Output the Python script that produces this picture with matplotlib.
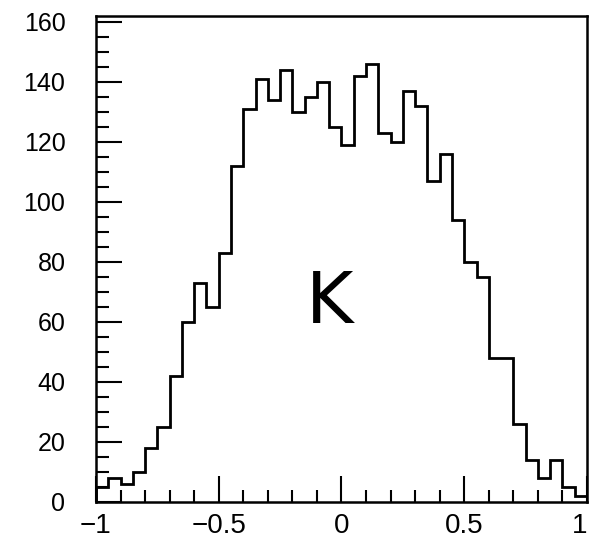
import numpy as np
import matplotlib
matplotlib.use("Agg")
import matplotlib.pyplot as plt
from matplotlib.ticker import MultipleLocator

# histogram: 40 bins of width 0.05 from -1 to 1
bin_edges = np.linspace(-1.0, 1.0, 41)
counts = [5, 8, 6, 10, 18, 25, 42, 60, 73, 65,
          83, 112, 131, 141, 134, 144, 130, 135, 140, 125,
          119, 142, 146, 123, 120, 137, 132, 107, 116, 94,
          80, 75, 48, 48, 26, 14, 8, 14, 5, 2]

x_ticks = [-1, -0.5, 0, 0.5, 1]
x_labels = ["\u22121", "\u22120.5", "0", "0.5", "1"]
y_ticks = [0, 20, 40, 60, 80, 100, 120, 140, 160]

plt.rcParams['font.family'] = ['Liberation Sans', 'DejaVu Sans']

fig = plt.figure(figsize=(5.91, 5.40), dpi=100)
ax = fig.add_axes([0.1624, 0.0704, 0.8308, 0.9])

ax.stairs(counts, bin_edges, color="black", linewidth=2.0)

ax.set_xlim(-1, 1)
ax.set_ylim(0, 162)

ax.set_xticks(x_ticks)
ax.set_xticklabels(x_labels)
ax.set_yticks(y_ticks)
ax.xaxis.set_minor_locator(MultipleLocator(0.1))
ax.yaxis.set_minor_locator(MultipleLocator(5))

ax.tick_params(axis="both", which="major", direction="in", length=19, width=1.5)
ax.tick_params(axis="both", which="minor", direction="in", length=9, width=1.5)
ax.tick_params(axis="x", labelsize=20, pad=8)
ax.tick_params(axis="y", labelsize=18, pad=22)

# the "1" sits at the very edge, keep it inside the picture
ax.get_xticklabels()[-1].set_horizontalalignment("right")

for side in ax.spines.values():
    side.set_linewidth(1.8)

ax.text(-0.05, 66, "K", fontsize=52, ha="center", va="center",
        family="DejaVu Sans")

fig.savefig("out.png", dpi=100)
